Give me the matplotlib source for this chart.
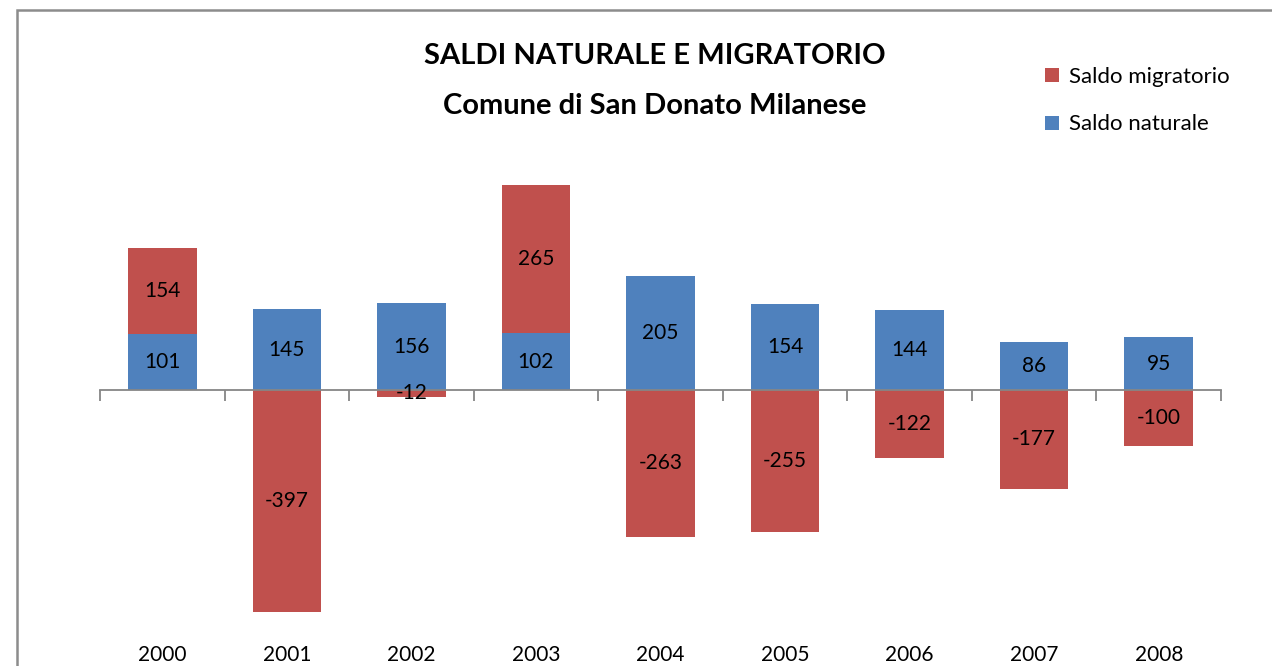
import numpy as np
import matplotlib
matplotlib.use('Agg')
import matplotlib.pyplot as plt
from matplotlib.patches import Rectangle
from matplotlib.transforms import blended_transform_factory

# dati
anni = ['2000', '2001', '2002', '2003', '2004', '2005', '2006', '2007', '2008']
saldo_naturale = [101, 145, 156, 102, 205, 154, 144, 86, 95]
saldo_migratorio = [154, -397, -12, 265, -263, -255, -122, -177, -100]

rosso = '#C0504D'
blu = '#4F81BD'

plt.rcParams['font.family'] = ['Lato', 'DejaVu Sans']

fig = plt.figure(figsize=(12.72, 6.66), dpi=100)
ax = fig.add_axes([0.0786, 0.039, 0.8813, 0.7087])

x = np.arange(len(anni))
nat = np.array(saldo_naturale)
mig = np.array(saldo_migratorio)

# migratorio positivo sopra il naturale, negativo sotto lo zero
base_mig = np.where(mig > 0, nat, 0)
ax.bar(x, nat, width=0.55, color=blu, label='Saldo naturale', zorder=2)
ax.bar(x, mig, width=0.55, bottom=base_mig, color=rosso, label='Saldo migratorio', zorder=2)

for i in range(len(anni)):
    ax.text(x[i], nat[i] / 2, str(nat[i]), ha='center', va='center', fontsize=15, zorder=4)
    ax.text(x[i], base_mig[i] + mig[i] / 2, str(mig[i]), ha='center', va='center',
            fontsize=15, zorder=4)

ax.set_xlim(-0.5, len(anni) - 0.5)
ax.set_ylim(-448, 398)

# asse orizzontale sullo zero
for s in ['top', 'right', 'left']:
    ax.spines[s].set_visible(False)
ax.spines['bottom'].set_position(('data', 0))
ax.spines['bottom'].set_color('#868686')
ax.spines['bottom'].set_linewidth(1.3)
ax.spines['bottom'].set_zorder(3)
ax.set_yticks([])
ax.set_xticks(x)
ax.set_xticklabels([])
ax.tick_params(axis='x', which='major', length=0)
ax.set_xticks(np.arange(len(anni) + 1) - 0.5, minor=True)
ax.tick_params(axis='x', which='minor', length=8, width=1.3, color='#868686', direction='out')

trans = blended_transform_factory(ax.transData, ax.transAxes)
for i, a in enumerate(anni):
    ax.text(x[i], -0.032, a, ha='center', va='center', fontsize=15, transform=trans)

fig.text(0.515, 0.916, 'SALDI NATURALE E MIGRATORIO', ha='center', va='center',
         fontsize=21, fontweight='bold')
fig.text(0.515, 0.841, 'Comune di San Donato Milanese', ha='center', va='center',
         fontsize=21, fontweight='bold')

handles, labels = ax.get_legend_handles_labels()
fig.legend(handles[::-1], labels[::-1], loc='upper left', bbox_to_anchor=(0.806, 0.93),
           frameon=False, fontsize=16, handlelength=0.6, handleheight=0.6,
           handletextpad=0.45, labelspacing=1.25)

# bordo del grafico
fig.add_artist(Rectangle((17 / 1272, -0.1), 1.2, 1.1 - 10 / 666, transform=fig.transFigure,
                         fill=False, edgecolor='#8C8C8C', linewidth=1.8))

fig.savefig('out.png', dpi=100)
